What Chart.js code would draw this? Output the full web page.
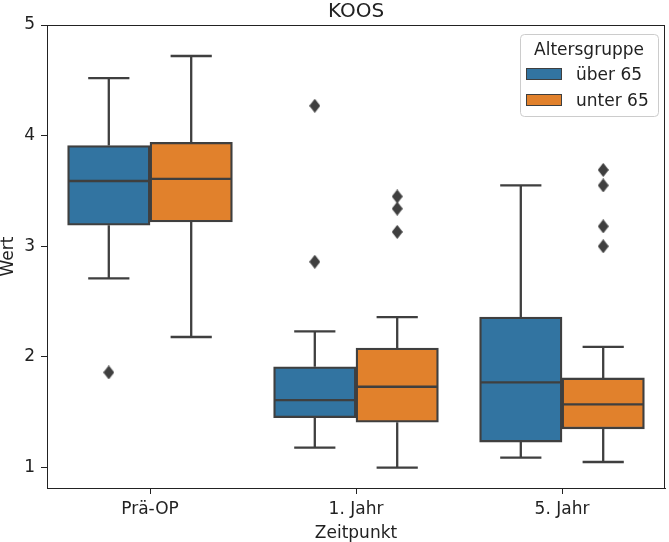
<!DOCTYPE html>
<html>
<head>
<meta charset="utf-8">
<script src="https://cdn.jsdelivr.net/npm/chart.js@4.4.1/dist/chart.umd.min.js"></script>
<style>
  html, body { margin: 0; padding: 0; background: #fff; }
</style>
</head>
<body>
<canvas id="koosChart" width="669" height="542"></canvas>
<script>
const categories = ['Prä-OP', '1. Jahr', '5. Jahr'];
const groups = ['über 65', 'unter 65'];
const yTicks = [1, 2, 3, 4, 5];

// box stats: lower whisker, Q1, median, Q3, upper whisker
const ueber65Low = [2.71, 1.18, 1.09];
const ueber65Q1 = [3.19, 1.45, 1.23];
const ueber65Median = [3.59, 1.61, 1.77];
const ueber65Q3 = [3.91, 1.91, 2.36];
const ueber65High = [4.52, 2.23, 3.55];

const unter65Low = [2.18, 1.00, 1.05];
const unter65Q1 = [3.22, 1.41, 1.35];
const unter65Median = [3.61, 1.73, 1.57];
const unter65Q3 = [3.94, 2.08, 1.81];
const unter65High = [4.72, 2.36, 2.09];

// outliers as [category index, value]
const ueber65Outliers = [[0, 1.86], [1, 4.27], [1, 2.86]];
const unter65Outliers = [[1, 3.45], [1, 3.34], [1, 3.13], [2, 3.69], [2, 3.55], [2, 3.18], [2, 3.00]];

const colors = ['#3274a1', '#e1812c'];
const lineColor = '#3f3f3f';
const textColor = '#222';
const font = 'DejaVu Sans';
const hueOffset = [-0.2, 0.2];

const stats = [
  { low: ueber65Low, q1: ueber65Q1, med: ueber65Median, q3: ueber65Q3, high: ueber65High },
  { low: unter65Low, q1: unter65Q1, med: unter65Median, q3: unter65Q3, high: unter65High }
];

function thinDiamond(w, h, color) {
  const c = document.createElement('canvas');
  c.width = w; c.height = h;
  const g = c.getContext('2d');
  g.fillStyle = color;
  g.beginPath();
  g.moveTo(w / 2, 0); g.lineTo(w, h / 2); g.lineTo(w / 2, h); g.lineTo(0, h / 2);
  g.closePath();
  g.fill();
  return c;
}
const diamond = thinDiamond(11, 14, lineColor);

// whiskers, caps and medians on top of the floating bars
const boxParts = {
  id: 'boxParts',
  afterDatasetsDraw(chart) {
    const y = chart.scales.y;
    const ctx = chart.ctx;
    ctx.save();
    ctx.strokeStyle = lineColor;
    ctx.lineWidth = 2.3;
    stats.forEach((st, di) => {
      chart.getDatasetMeta(di).data.forEach((bar, i) => {
        const x = bar.x, half = bar.width / 2, cap = bar.width / 4;
        const hi = y.getPixelForValue(st.high[i]), lo = y.getPixelForValue(st.low[i]);
        ctx.beginPath();
        ctx.moveTo(x, y.getPixelForValue(st.q3[i]));
        ctx.lineTo(x, hi);
        ctx.moveTo(x - cap, hi);
        ctx.lineTo(x + cap, hi);
        ctx.moveTo(x, y.getPixelForValue(st.q1[i]));
        ctx.lineTo(x, lo);
        ctx.moveTo(x - cap, lo);
        ctx.lineTo(x + cap, lo);
        ctx.moveTo(x - half + 1, y.getPixelForValue(st.med[i]));
        ctx.lineTo(x + half - 1, y.getPixelForValue(st.med[i]));
        ctx.stroke();
      });
    });
    ctx.restore();
  }
};

// frame, title and legend like matplotlib
const decor = {
  id: 'decor',
  afterDraw(chart) {
    const { ctx, chartArea: a } = chart;
    ctx.save();
    ctx.strokeStyle = '#222';
    ctx.lineWidth = 1;
    ctx.strokeRect(a.left + 0.5, a.top + 0.5, a.right - a.left - 1, a.bottom - a.top);

    ctx.fillStyle = textColor;
    ctx.font = '20px "' + font + '"';
    ctx.textAlign = 'center';
    ctx.textBaseline = 'alphabetic';
    ctx.fillText('KOOS', (a.left + a.right) / 2, 16.5);

    const lx = a.right - 145, ly = a.top + 9, lw = 138, lh = 82;
    ctx.beginPath();
    ctx.roundRect(lx + 0.5, ly + 0.5, lw, lh, 4);
    ctx.fillStyle = 'rgba(255,255,255,0.8)';
    ctx.fill();
    ctx.strokeStyle = '#cccccc';
    ctx.stroke();

    ctx.font = '17px "' + font + '"';
    ctx.fillStyle = textColor;
    ctx.fillText('Altersgruppe', lx + lw / 2, ly + 21);
    ctx.textAlign = 'left';
    groups.forEach((g, i) => {
      const py = ly + 34 + i * 26;
      ctx.fillStyle = colors[i];
      ctx.fillRect(lx + 6, py, 36, 12);
      ctx.strokeStyle = lineColor;
      ctx.strokeRect(lx + 6.5, py + 0.5, 35, 11);
      ctx.fillStyle = textColor;
      ctx.fillText(g, lx + 56, py + 12);
    });
    ctx.restore();
  }
};

const boxSets = stats.map((st, di) => ({
  type: 'bar',
  label: groups[di],
  data: st.q1.map((v, i) => ({ x: i + hueOffset[di], y: [v, st.q3[i]] })),
  backgroundColor: colors[di],
  borderColor: lineColor,
  borderWidth: 2.3,
  borderSkipped: false,
  grouped: false,
  categoryPercentage: 1.0,
  barPercentage: 1.0
}));

// image point style keeps its own size, small radius keeps the layout overflow small
const outlierSets = [ueber65Outliers, unter65Outliers].map((list, di) => ({
  type: 'scatter',
  label: groups[di] + ' Ausreißer',
  data: list.map(o => ({ x: o[0] + hueOffset[di], y: o[1] })),
  pointStyle: diamond,
  pointRadius: 1,
  pointBorderWidth: 0
}));

new Chart(document.getElementById('koosChart'), {
  type: 'bar',
  data: { datasets: [...boxSets, ...outlierSets] },
  options: {
    responsive: false,
    animation: false,
    devicePixelRatio: 1,
    layout: { padding: { top: 25, right: 2, left: 0, bottom: 0 } },
    plugins: { legend: { display: false }, tooltip: { enabled: false }, title: { display: false } },
    scales: {
      x: {
        type: 'linear',
        min: -0.5,
        max: 2.5,
        offset: false,
        afterBuildTicks: s => { s.ticks = categories.map((c, i) => ({ value: i })); },
        grid: { display: true, drawOnChartArea: false, drawTicks: true, tickLength: 6, color: '#222', offset: false },
        border: { display: true, color: '#222' },
        ticks: { color: textColor, font: { family: font, size: 17 }, padding: 5, callback: v => categories[v] },
        title: { display: true, text: 'Zeitpunkt', color: textColor, font: { family: font, size: 17, lineHeight: 1 }, padding: { top: 0, bottom: 0 } },
        afterFit: s => { s.height = 54; }
      },
      y: {
        type: 'linear',
        min: 0.815,
        max: 5,
        afterBuildTicks: s => { s.ticks = yTicks.map(v => ({ value: v })); },
        grid: { display: true, drawOnChartArea: false, drawTicks: true, tickLength: 6, color: '#222' },
        border: { display: true, color: '#222' },
        ticks: { color: textColor, font: { family: font, size: 17 }, padding: 6 },
        title: { display: true, text: 'Wert', color: textColor, font: { family: font, size: 17, lineHeight: 1 }, padding: 0 },
        afterFit: s => { s.width = 47; }
      }
    }
  },
  plugins: [boxParts, decor]
});
</script>
</body>
</html>
